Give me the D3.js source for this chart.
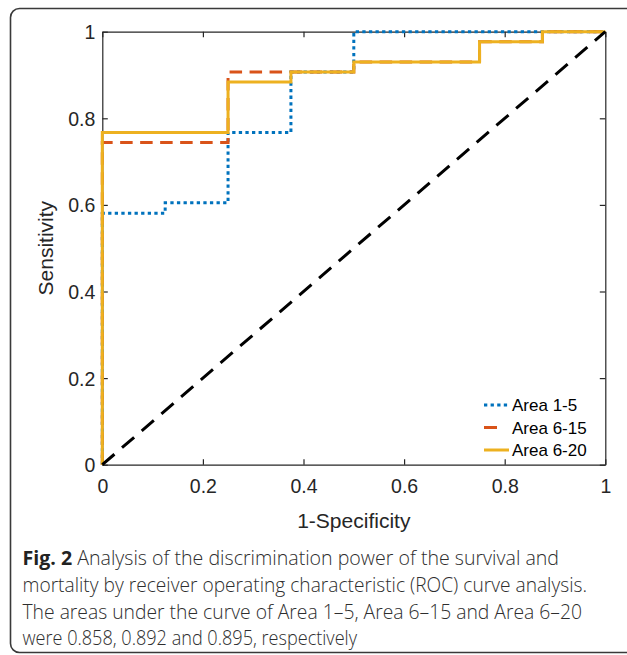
<!DOCTYPE html>
<html>
<head>
<meta charset="utf-8">
<script src="https://cdn.jsdelivr.net/npm/d3@7/dist/d3.min.js"></script>
<style>
  html, body { margin: 0; padding: 0; background: #fff; }
  svg { display: block; }
</style>
</head>
<body>
<svg id="chart" width="627" height="655"></svg>
<script>
// ---------- data ----------
const seriesNames = ["Area 1-5", "Area 6-15", "Area 6-20"];
const fprArea1to5  = [0, 0, 0.125, 0.125, 0.25, 0.25, 0.375, 0.375, 0.5, 0.5, 1];
const tprArea1to5  = [0, 0.581, 0.581, 0.605, 0.605, 0.767, 0.767, 0.907, 0.907, 1, 1];
const fprArea6to15 = [0, 0, 0.25, 0.25, 0.5, 0.5, 0.75, 0.75, 0.875, 0.875, 1];
const tprArea6to15 = [0, 0.744, 0.744, 0.907, 0.907, 0.930, 0.930, 0.977, 0.977, 1, 1];
const fprArea6to20 = [0, 0, 0.25, 0.25, 0.375, 0.375, 0.5, 0.5, 0.75, 0.75, 0.875, 0.875, 1];
const tprArea6to20 = [0, 0.767, 0.767, 0.884, 0.884, 0.907, 0.907, 0.930, 0.930, 0.977, 0.977, 1, 1];
const chanceX = [0, 1];
const chanceY = [0, 1];
const tickValues = [0, 0.2, 0.4, 0.6, 0.8, 1];
const tickLabels = ["0", "0.2", "0.4", "0.6", "0.8", "1"];
const xLabel = "1-Specificity";
const yLabel = "Sensitivity";
const captionBold = "Fig. 2";
const captionLines = [
  " Analysis of the discrimination power of the survival and",
  "mortality by receiver operating characteristic (ROC) curve analysis.",
  "The areas under the curve of Area 1\u20135, Area 6\u201315 and Area 6\u201320",
  "were 0.858, 0.892 and 0.895, respectively"
];

// ---------- layout ----------
const svg = d3.select("#chart");
const plotL = 102.3, plotR = 605.3, plotT = 31.7, plotB = 464.7;
const x = d3.scaleLinear().domain([0, 1]).range([plotL, plotR]);
const y = d3.scaleLinear().domain([0, 1]).range([plotB, plotT]);
const axisColor = "#262626";
const tickFont = "'Liberation Sans', Arial, Helvetica, sans-serif";

svg.append("rect").attr("width", 627).attr("height", 655).attr("fill", "#fff");

// frame
svg.append("rect")
  .attr("x", 10.5).attr("y", 8.5).attr("width", 640).attr("height", 644)
  .attr("rx", 9).attr("ry", 9)
  .attr("fill", "none").attr("stroke", "#3a3a3a").attr("stroke-width", 1.6);

// axes
const fmt = (d) => tickLabels[tickValues.indexOf(d)];
function styleAxis(g) {
  g.selectAll("path.domain").attr("stroke", axisColor).attr("stroke-width", 1.2);
  g.selectAll(".tick line").attr("stroke", axisColor).attr("stroke-width", 1.2);
}
const gx = svg.append("g").attr("transform", `translate(0,${plotB})`)
  .call(d3.axisBottom(x).tickValues(tickValues).tickFormat(fmt).tickSizeInner(-5.5).tickSizeOuter(0));
styleAxis(gx);
gx.selectAll(".tick text")
  .attr("y", 28.8).attr("dy", null)
  .attr("fill", axisColor).attr("font-family", tickFont).attr("font-size", 19.5);

const gxt = svg.append("g").attr("transform", `translate(0,${plotT})`)
  .call(d3.axisTop(x).tickValues(tickValues).tickFormat("").tickSizeInner(-5.5).tickSizeOuter(0));
styleAxis(gxt);

const gy = svg.append("g").attr("transform", `translate(${plotL},0)`)
  .call(d3.axisLeft(y).tickValues(tickValues).tickFormat(fmt).tickSizeInner(-5.5).tickSizeOuter(0));
styleAxis(gy);
gy.selectAll(".tick text")
  .attr("x", -7).attr("dy", "0.36em")
  .attr("fill", axisColor).attr("font-family", tickFont).attr("font-size", 19.5);

const gyr = svg.append("g").attr("transform", `translate(${plotR},0)`)
  .call(d3.axisRight(y).tickValues(tickValues).tickFormat("").tickSizeInner(-5.5).tickSizeOuter(0));
styleAxis(gyr);

// axis labels
svg.append("text")
  .attr("x", (plotL + plotR) / 2).attr("y", 528)
  .attr("text-anchor", "middle")
  .attr("fill", axisColor).attr("font-family", tickFont).attr("font-size", 21)
  .text(xLabel);
svg.append("text")
  .attr("transform", `translate(52.5,${(plotT + plotB) / 2}) rotate(-90)`)
  .attr("text-anchor", "middle")
  .attr("fill", axisColor).attr("font-family", tickFont).attr("font-size", 21)
  .text(yLabel);

// curves
const series = [
  { name: seriesNames[0], fx: fprArea1to5,  ty: tprArea1to5,  color: "#0072BD", dash: "3.3,3.3", legLen: 25 },
  { name: seriesNames[1], fx: fprArea6to15, ty: tprArea6to15, color: "#D95319", dash: "12.5,7.5", legLen: 13 },
  { name: seriesNames[2], fx: fprArea6to20, ty: tprArea6to20, color: "#EDB120", dash: null, legLen: 25 }
];
const line = d3.line().x(d => x(d[0])).y(d => y(d[1]));
series.forEach(s => {
  const pts = s.fx.map((v, i) => [v, s.ty[i]]);
  svg.append("path")
    .attr("d", line(pts))
    .attr("fill", "none")
    .attr("stroke", s.color)
    .attr("stroke-width", 3)
    .attr("stroke-dasharray", s.dash)
    .attr("stroke-linejoin", "miter");
});

// chance diagonal
svg.append("path")
  .attr("d", line(chanceX.map((v, i) => [v, chanceY[i]])))
  .attr("fill", "none")
  .attr("stroke", "#000")
  .attr("stroke-width", 3)
  .attr("stroke-dasharray", "16,10");

// legend
const legX0 = 484, legTextX = 512;
const legRowY = [405, 427.5, 450];
series.forEach((s, i) => {
  const yy = legRowY[i];
  svg.append("line")
    .attr("x1", legX0).attr("x2", legX0 + s.legLen)
    .attr("y1", yy).attr("y2", yy)
    .attr("stroke", s.color).attr("stroke-width", 3)
    .attr("stroke-dasharray", i === 0 ? s.dash : null);
  svg.append("text")
    .attr("x", legTextX).attr("y", yy).attr("dy", "0.36em")
    .attr("fill", "#000").attr("font-family", tickFont).attr("font-size", 17)
    .text(s.name);
});

// caption
const capFont = "'Open Sans', 'Noto Sans', sans-serif";
const capX = 22.5;
const capBaselines = [565, 592, 618.5, 645];
const capLengths = [536.5, 564.5, 559.5, 334.5];
captionLines.forEach((t, i) => {
  const txt = svg.append("text")
    .attr("x", capX).attr("y", capBaselines[i])
    .attr("fill", "#2e2e2e").attr("font-family", capFont).attr("font-size", 19.5)
    .attr("textLength", capLengths[i]).attr("lengthAdjust", "spacingAndGlyphs");
  if (i === 0) {
    txt.append("tspan").attr("font-weight", "bold").attr("fill", "#222").text(captionBold);
  }
  txt.append("tspan").attr("font-weight", 300).text(t);
});
</script>
</body>
</html>
